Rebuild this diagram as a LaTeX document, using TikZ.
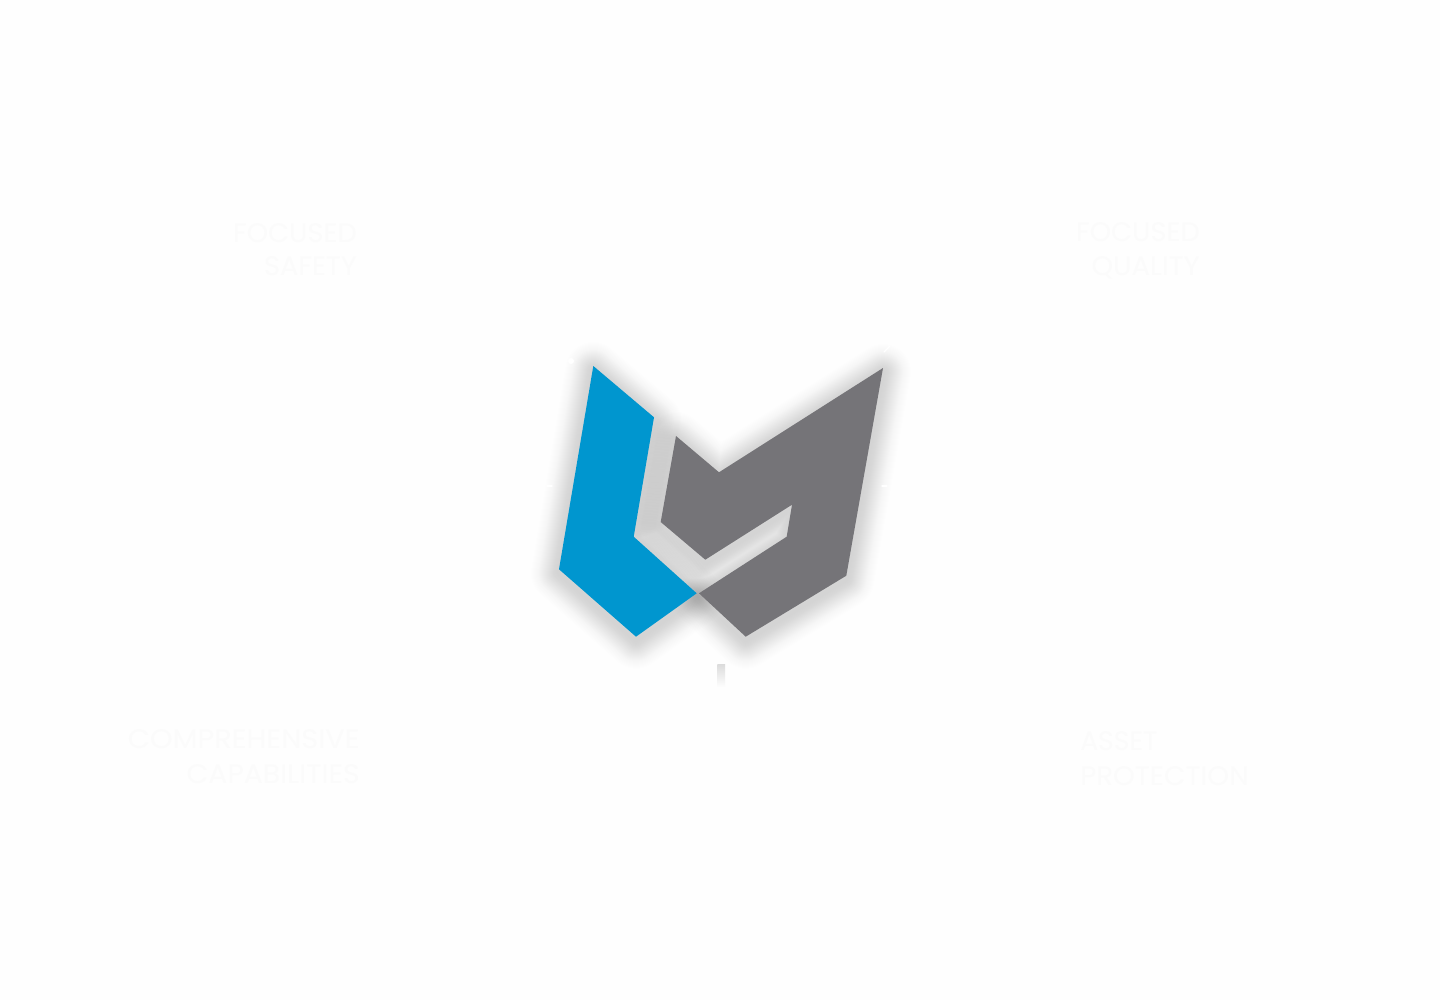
\documentclass[tikz,border=0pt]{standalone}
\usepackage{fontspec}
\usepackage{graphicx}
\setmainfont{Poppins}
\definecolor{bgc}{HTML}{FEFEFE}
\definecolor{labelc}{HTML}{FBFBFB}
\definecolor{logoblue}{HTML}{0096CF}
\definecolor{logogray}{HTML}{757478}
\tikzset{
  lbl/.style={text=labelc,font=\fontsize{20}{20}\selectfont,inner sep=0pt,text depth=0pt},
  faint/.style={draw=white,line width=0.9pt,line cap=round},
  shadowpass/.style={draw=black,line join=round}
}
\newcommand{\blueshape}{(593.3,366) -- (654,417.3) -- (633.7,536.7) -- (696.7,593.3) -- (636,636.7) -- (559,569.3) -- cycle}
\newcommand{\grayshape}{(883,368) -- (846.3,575.7) -- (745.7,636.7) -- (699,593.3) -- (786.7,536.7) -- (792,504.7) -- (705.3,559.7) -- (660.7,522) -- (676,436) -- (719,472.3) -- cycle}
\begin{document}
\begin{tikzpicture}[x=0.75pt,y=-0.75pt]
\useasboundingbox (0,0) rectangle (1440,1000);
\fill[bgc] (0,0) rectangle (1440,1000);
% labels
\node[lbl,anchor=base east] (fa) at (357,242) {\scalebox{1.02}[1]{FOCUSED}};
\node[lbl,anchor=base east] (fb) at (357,275) {\scalebox{1.02}[1]{SAFETY}};
\node[lbl,anchor=base east] (fc) at (1200,241) {\scalebox{1.02}[1]{FOCUSED}};
\node[lbl,anchor=base east] (fd) at (1200,275) {\scalebox{1.03}[1]{QUALITY}};
\node[lbl,anchor=base east] (fe) at (360,748) {\scalebox{1.08}[1]{COMPREHENSIVE}};
\node[lbl,anchor=base east] (ff) at (360,783) {\scalebox{1.06}[1]{CAPABILITIES}};
\node[lbl,anchor=base west] (fg) at (1080,750) {ASSET};
\node[lbl,anchor=base west] (fh) at (1080,785) {\scalebox{1.04}[1]{PROTECTION}};
% soft shadow: gaussian profile built from nested strokes
\begin{scope}[shift={(0,4)}]
\foreach \d in {1,...,36}{
  \pgfmathsetmacro{\op}{0.0012*\d*exp(-\d*\d/288)}
  \draw[shadowpass,opacity=\op,line width=1.5*\d pt] \blueshape;
  \draw[shadowpass,opacity=\op,line width=1.5*\d pt] \grayshape;
}
\end{scope}
% logo
\fill[logoblue] \blueshape;
\fill[logogray] \grayshape;
% stem below the logo
\shade[top color=black!14,bottom color=bgc] (717.3,664) rectangle (725,687);
% faint white marks
\fill[white] (571,361) circle (3);
\draw[faint] (884,352) -- (890,346);
\draw[faint] (547,486) -- (552,486);
\draw[faint] (882,486) -- (887,486);
\end{tikzpicture}
\end{document}
